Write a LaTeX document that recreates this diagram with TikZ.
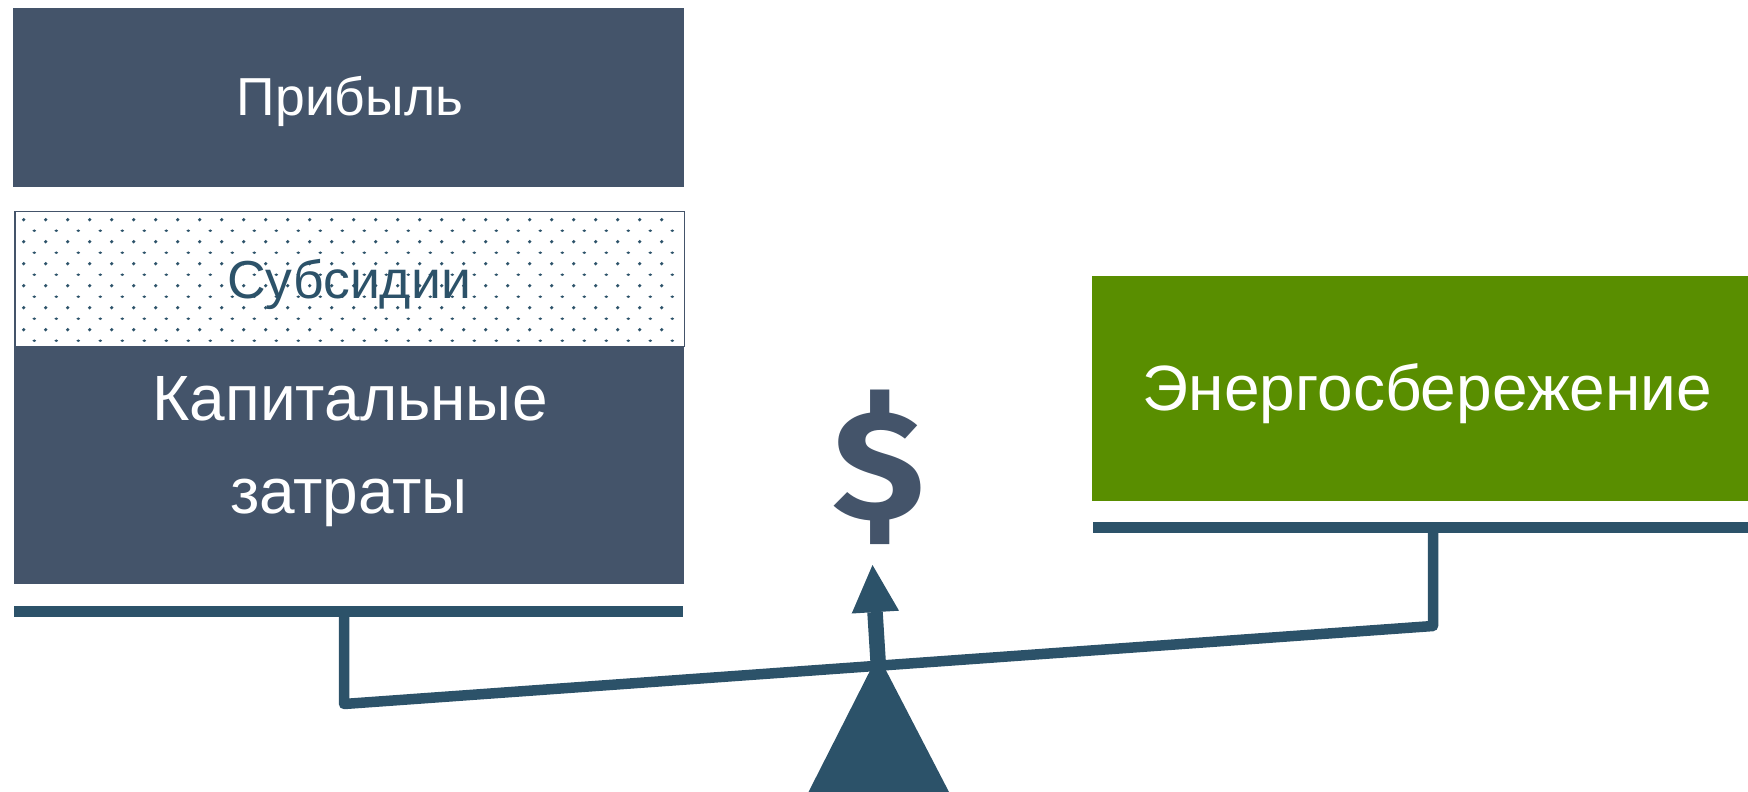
\documentclass[tikz,border=0pt]{standalone}
\usepackage{fontspec}
\setmainfont{Liberation Sans}
\newfontfamily\dollarfont{Fira Sans}
\definecolor{slateblue}{HTML}{44546A}
\definecolor{beamblue}{HTML}{2C5269}
\definecolor{leafgreen}{HTML}{598E00}
\tikzset{
  x=1pt,y=-1pt,
  block/.style={fill=slateblue,draw=none,inner sep=0pt},
  greenblock/.style={block,fill=leafgreen},
  hatchbox/.style={draw=slateblue,line width=1.5pt,fill=white,inner sep=0pt},
  barline/.style={fill=beamblue,draw=none,inner sep=0pt},
  beam/.style={draw=beamblue,line width=10.5pt,line join=round},
  dotmark/.style={fill=beamblue,draw=none},
  arrowhd/.style={fill=beamblue,draw=none},
  smalltext/.style={inner sep=0pt,anchor=base,font=\fontsize{53.5}{60}\selectfont},
  bigtext/.style={inner sep=0pt,anchor=base,text=white,font=\fontsize{64}{70}\selectfont},
}
\begin{document}
\begin{tikzpicture}
\useasboundingbox (0,0) rectangle (1748,792);
\clip (0,0) rectangle (1748,792);
% blocks
\node[block,minimum width=671pt,minimum height=179pt] (profit) at (348.5,97.5) {};
\node[smalltext,text=white] (profittext) at (350,115) {Прибыль};
\node[hatchbox,minimum width=669.5pt,minimum height=135pt] (subsidy) at (349.5,279) {};
\foreach \r in {0,...,5}{
  \foreach \c in {0,...,29}{
    \fill[dotmark] (23.7+22*\c,219.7+22*\r) circle (1.8);
    \fill[dotmark] (34.3+22*\c,230.7+22*\r) ellipse (1.9 and 1.3);
  }
}
\node[smalltext,text=beamblue] (subsidytext) at (349,298) {Субсидии};
\node[block,minimum width=670pt,minimum height=238pt] (capex) at (349,465) {};
\node[bigtext] (capexa) at (350,420) {Капитальные};
\node[bigtext] (capexb) at (349,513) {затраты};
\node[barline,minimum width=669pt,minimum height=11pt] (leftbar) at (348.5,611.5) {};
\node[greenblock,minimum width=656pt,minimum height=225pt] (saving) at (1420,388.5) {};
\node[bigtext] (savingtext) at (1427.5,410.5) {Энергосбережение};
\node[barline,minimum width=655pt,minimum height=11pt] (rightbar) at (1420.5,527.5) {};
% beam
\coordinate (lefttop) at (344,617);
\coordinate (leftcorner) at (344,704);
\coordinate (rightcorner) at (1433,626);
\coordinate (righttop) at (1433,533);
\draw[beam] (lefttop) -- (leftcorner) -- (rightcorner) -- (righttop);
% fulcrum
\coordinate (apex) at (878,655);
\coordinate (baseL) at (808.5,792);
\coordinate (baseR) at (949,792);
\fill[beamblue] (apex) -- (baseR) -- (baseL) -- cycle;
% arrow
\coordinate (shaftstart) at (878.5,668);
\coordinate (shaftend) at (875,612);
\draw[draw=beamblue,line width=15.5pt] (shaftstart) -- (shaftend);
\coordinate (tip) at (872.5,565);
\coordinate (headL) at (851.7,613.5);
\coordinate (headR) at (899,610.7);
\fill[arrowhd] (tip) -- (headR) -- (headL) -- cycle;
% dollar
\node[text=slateblue,inner sep=0pt,xscale=1.08,font=\dollarfont\bfseries\fontsize{156}{156}\selectfont] (dollar) at (879,467) {\$};
\end{tikzpicture}
\end{document}
